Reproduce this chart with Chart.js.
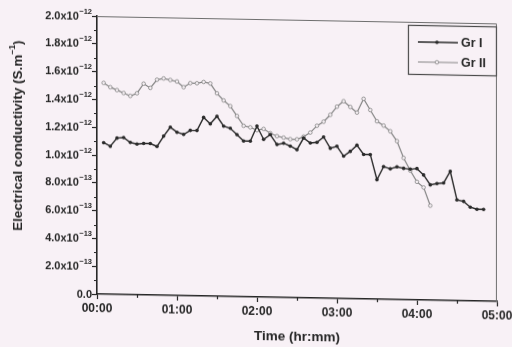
<!DOCTYPE html>
<html>
<head>
<meta charset="utf-8">
<script src="https://cdn.jsdelivr.net/npm/chart.js@4/dist/chart.umd.min.js"></script>
<style>
  html, body { margin: 0; padding: 0; background: #f8f1f6; overflow: hidden; }
  #wrap { width: 512px; height: 347px; transform: skewY(1.05deg); transform-origin: 256px 173px; }
  canvas { display: block; }
</style>
</head>
<body>
<div id="wrap"><canvas id="c" width="512" height="347"></canvas></div>
<script>
// Sampling times in minutes since start
const timeGrI = [5, 10, 15, 20, 25, 30, 35, 40, 45, 50, 55, 60, 65, 70, 75, 80, 85, 90, 95, 100,
  105, 110, 115, 120, 125, 130, 135, 140, 145, 150, 155, 160, 165, 170, 175, 180, 185, 190, 195, 200,
  205, 210, 215, 220, 225, 230, 235, 240, 245, 250, 255, 260, 265, 270, 275, 280, 285, 290];
const timeGrII = [5, 10, 15, 20, 25, 30, 35, 40, 45, 50, 55, 60, 65, 70, 75, 80, 85, 90, 95, 100,
  105, 110, 115, 120, 125, 130, 135, 140, 145, 150, 155, 160, 165, 170, 175, 180, 185, 190, 195, 200,
  205, 210, 215, 220, 225, 230, 235, 240, 245, 250];

// Electrical conductivity, in units of 1e-12 S/m
const grI = [1.09, 1.065, 1.125, 1.13, 1.095, 1.085, 1.09, 1.09, 1.07, 1.145,
  1.21, 1.175, 1.16, 1.19, 1.19, 1.285, 1.24, 1.295, 1.225, 1.21,
  1.165, 1.12, 1.12, 1.23, 1.135, 1.17, 1.10, 1.11, 1.09, 1.065,
  1.15, 1.115, 1.12, 1.16, 1.08, 1.095, 1.025, 1.06, 1.105, 1.04,
  1.04, 0.86, 0.955, 0.94, 0.955, 0.945, 0.94, 0.945, 0.90, 0.83,
  0.84, 0.845, 0.93, 0.725, 0.715, 0.675, 0.66, 0.66];
const grII = [1.52, 1.49, 1.47, 1.45, 1.43, 1.45, 1.52, 1.49, 1.55, 1.56,
  1.55, 1.54, 1.50, 1.53, 1.53, 1.54, 1.53, 1.46, 1.41, 1.37,
  1.30, 1.23, 1.22, 1.20, 1.21, 1.18, 1.16, 1.15, 1.14, 1.14,
  1.16, 1.19, 1.24, 1.27, 1.32, 1.38, 1.42, 1.38, 1.34, 1.44,
  1.36, 1.28, 1.25, 1.21, 1.14, 1.02, 0.93, 0.85, 0.81, 0.68];

const seriesNames = ['Gr I', 'Gr II'];
const xTickLabels = ['00:00', '01:00', '02:00', '03:00', '04:00', '05:00'];
// y tick labels: mantissa part and power-of-ten exponent
const yTickMantissa = ['0.0', '2.0x10', '4.0x10', '6.0x10', '8.0x10', '1.0x10',
  '1.2x10', '1.4x10', '1.6x10', '1.8x10', '2.0x10'];
const yTickExponent = ['', '\u221213', '\u221213', '\u221213', '\u221213', '\u221212',
  '\u221212', '\u221212', '\u221212', '\u221212', '\u221212'];
const xTitle = 'Time (hr:mm)';
const yTitle = 'Electrical conductivity (S.m';
const yTitleExp = '\u22121';

const INK = '#262626';
const FONT = '"Liberation Sans", Arial, sans-serif';

const toPoints = (xs, ys) => xs.map((x, i) => ({ x: x, y: ys[i] }));

// Frame, minor ticks, y tick labels, axis titles and the boxed legend
const decor = {
  id: 'decor',
  beforeDatasetsDraw(chart) {
    const { ctx, chartArea: a } = chart;
    ctx.save();
    ctx.strokeStyle = '#6e6e6e';
    ctx.lineWidth = 1;
    ctx.beginPath();
    ctx.moveTo(a.left, a.top + 0.5);
    ctx.lineTo(a.right - 0.5, a.top + 0.5);
    ctx.lineTo(a.right - 0.5, a.bottom);
    ctx.stroke();
    ctx.restore();
  },
  afterDraw(chart) {
    const { ctx, chartArea: a, scales } = chart;
    const xs = scales.x, ys = scales.y;
    ctx.save();
    // minor ticks
    ctx.strokeStyle = INK;
    ctx.lineWidth = 1.2;
    ctx.beginPath();
    for (let m = 30; m < 300; m += 60) {
      const px = Math.round(xs.getPixelForValue(m)) + 0.5;
      ctx.moveTo(px, a.bottom);
      ctx.lineTo(px, a.bottom + 3);
    }
    for (let v = 0.1; v < 2.0; v += 0.2) {
      const py = Math.round(ys.getPixelForValue(v)) + 0.5;
      ctx.moveTo(a.left, py);
      ctx.lineTo(a.left - 3, py);
    }
    ctx.stroke();

    // y tick labels with superscript exponents
    ctx.fillStyle = INK;
    ctx.textBaseline = 'middle';
    ctx.textAlign = 'left';
    const rightEdge = a.left - 5;
    yTickMantissa.forEach((m, i) => {
      const py = ys.getPixelForValue(i * 0.2);
      ctx.font = 'bold 7.5px ' + FONT;
      const ew = yTickExponent[i] ? ctx.measureText(yTickExponent[i]).width + 0.5 : 0;
      if (ew) ctx.fillText(yTickExponent[i], rightEdge - ew + 0.5, py - 4.5);
      ctx.font = 'bold 11px ' + FONT;
      const mw = ctx.measureText(m).width;
      ctx.fillText(m, rightEdge - ew - mw, py + 0.5);
    });

    // axis titles
    ctx.font = 'bold 13.5px ' + FONT;
    ctx.textAlign = 'center';
    ctx.fillText(xTitle, (a.left + a.right) / 2, 336);
    ctx.save();
    ctx.translate(18, 140);
    ctx.rotate(-Math.PI / 2);
    ctx.font = 'bold 13.5px ' + FONT;
    const tw = ctx.measureText(yTitle).width;
    ctx.font = 'bold 8.5px ' + FONT;
    const ew = ctx.measureText(yTitleExp).width;
    ctx.font = 'bold 13.5px ' + FONT;
    const cw = ctx.measureText(')').width;
    const x0 = -(tw + ew + cw) / 2;
    ctx.textAlign = 'left';
    ctx.fillText(yTitle, x0, 0);
    ctx.font = 'bold 8.5px ' + FONT;
    ctx.fillText(yTitleExp, x0 + tw, -5);
    ctx.font = 'bold 13.5px ' + FONT;
    ctx.fillText(')', x0 + tw + ew, 0);
    ctx.restore();

    // legend
    const bw = 89, bh = 50;
    const bx = a.right - bw, by = a.top + 3;
    ctx.strokeStyle = '#4a4a4a';
    ctx.lineWidth = 1.2;
    ctx.strokeRect(bx + 0.5, by + 0.5, bw - 1, bh - 1);
    chart.data.datasets.forEach((ds, i) => {
      const ly = by + 17 + i * 20;
      ctx.strokeStyle = ds.borderColor;
      ctx.lineWidth = ds.borderWidth;
      ctx.beginPath();
      ctx.moveTo(bx + 10, ly);
      ctx.lineTo(bx + 50, ly);
      ctx.stroke();
      ctx.beginPath();
      ctx.arc(bx + 29, ly, ds.pointRadius, 0, Math.PI * 2);
      ctx.fillStyle = ds.pointBackgroundColor;
      ctx.fill();
      if (ds.pointBorderWidth) {
        ctx.strokeStyle = ds.pointBorderColor;
        ctx.lineWidth = ds.pointBorderWidth;
        ctx.stroke();
      }
      ctx.fillStyle = INK;
      ctx.font = 'bold 12.5px ' + FONT;
      ctx.textAlign = 'left';
      ctx.fillText(ds.label, bx + 53, ly + 0.5);
    });
    ctx.restore();
  }
};

new Chart(document.getElementById('c'), {
  type: 'line',
  data: {
    datasets: [
      {
        label: seriesNames[0],
        data: toPoints(timeGrI, grI),
        borderColor: '#2a2a2a',
        borderWidth: 1.4,
        pointRadius: 1.8,
        pointBackgroundColor: '#2a2a2a',
        pointBorderWidth: 0,
        pointBorderColor: '#2a2a2a',
        tension: 0
      },
      {
        label: seriesNames[1],
        data: toPoints(timeGrII, grII),
        borderColor: '#858585',
        borderWidth: 1.2,
        pointRadius: 1.8,
        pointBackgroundColor: '#f4eef2',
        pointBorderColor: '#858585',
        pointBorderWidth: 0.8,
        tension: 0
      }
    ]
  },
  options: {
    responsive: false,
    animation: false,
    devicePixelRatio: 1,
    layout: { padding: { left: 0, top: 19, right: 15, bottom: 0 } },
    plugins: { legend: { display: false }, tooltip: { enabled: false } },
    scales: {
      x: {
        type: 'linear',
        min: 0,
        max: 300,
        afterFit(s) { s.height = 50; s.paddingLeft = 0; s.paddingRight = 0; },
        afterBuildTicks(s) { s.ticks = xTickLabels.map((_, i) => ({ value: i * 60 })); },
        ticks: {
          callback: (v, i) => xTickLabels[i],
          color: INK,
          font: { family: FONT, size: 12, weight: 'bold' },
          padding: 2,
          maxRotation: 0,
          autoSkip: false
        },
        grid: { display: true, drawOnChartArea: false, drawTicks: true, tickLength: 5, tickColor: INK, tickWidth: 1.2 },
        border: { display: true, color: INK, width: 1.6 }
      },
      y: {
        type: 'linear',
        min: 0,
        max: 2.0,
        afterFit(s) { s.width = 97; s.paddingTop = 0; s.paddingBottom = 0; },
        afterBuildTicks(s) { s.ticks = yTickMantissa.map((_, i) => ({ value: i * 0.2 })); },
        ticks: { display: false },
        grid: { display: true, drawOnChartArea: false, drawTicks: true, tickLength: 5, tickColor: INK, tickWidth: 1.2 },
        border: { display: true, color: INK, width: 1.6 }
      }
    }
  },
  plugins: [decor]
});
</script>
</body>
</html>
